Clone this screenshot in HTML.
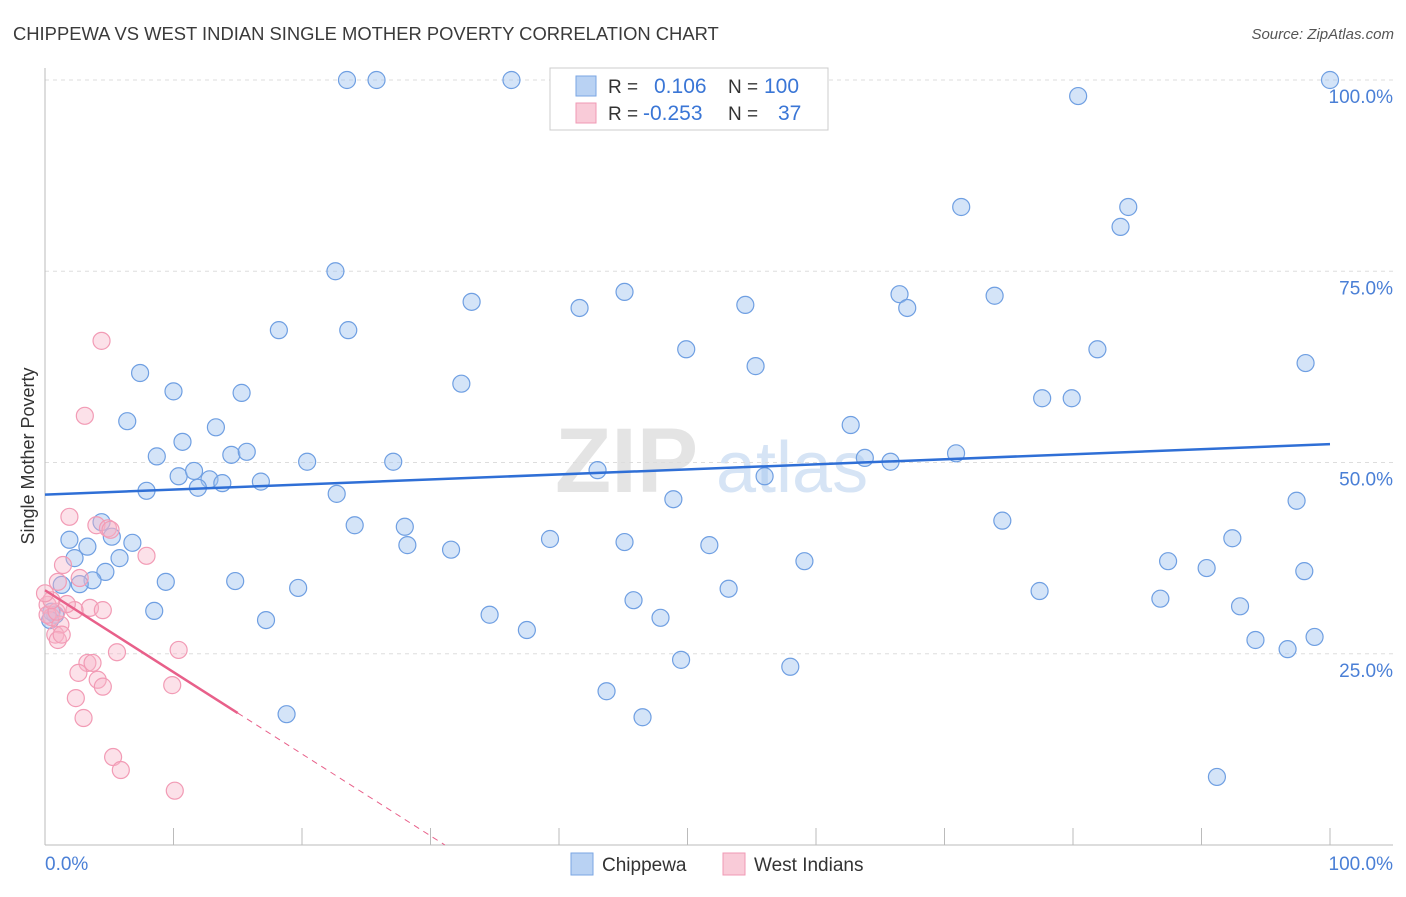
<!DOCTYPE html>
<html><head><meta charset="utf-8"><style>
body{margin:0;background:#fff;font-family:"Liberation Sans",sans-serif;}
svg text{font-family:"Liberation Sans",sans-serif;}
</style></head><body>
<svg id="chart" width="1406" height="892" xmlns="http://www.w3.org/2000/svg">
<text x="13" y="40" font-size="18.4" fill="#3a3a3a">CHIPPEWA VS WEST INDIAN SINGLE MOTHER POVERTY CORRELATION CHART</text>
<text x="1394" y="39" font-size="15" fill="#555" text-anchor="end" font-style="italic">Source: ZipAtlas.com</text>
<text x="555" y="492" font-size="92" fill="#e4e4e4" font-family="Liberation Serif" font-weight="bold">ZIP</text>
<text x="716" y="492" font-size="72" fill="#d6e4f5">atlas</text>
<text transform="translate(34,456) rotate(-90)" font-size="18" fill="#333" text-anchor="middle">Single Mother Poverty</text>
<g id="grid"></g><g id="marks"></g>
<g>
<rect x="550" y="68" width="278" height="62" fill="#fff" stroke="#ccc"/>
<rect x="576" y="76" width="20" height="20" fill="#b9d2f3" stroke="#7aa6e3"/>
<rect x="576" y="103" width="20" height="20" fill="#f9cbd8" stroke="#f09ab4"/>
<text x="608" y="93" font-size="19" fill="#333">R =</text>
<text x="654" y="93" font-size="21" fill="#3a76d6">0.106</text>
<text x="728" y="93" font-size="19" fill="#333">N =</text>
<text x="764" y="93" font-size="21" fill="#3a76d6">100</text>
<text x="608" y="120" font-size="19" fill="#333">R =</text>
<text x="643" y="120" font-size="21" fill="#3a76d6">-0.253</text>
<text x="728" y="120" font-size="19" fill="#333">N =</text>
<text x="778" y="120" font-size="21" fill="#3a76d6">37</text>
</g>
<g>
<rect x="571" y="853" width="22" height="22" fill="#b9d2f3" stroke="#7aa6e3"/>
<text x="602" y="871" font-size="19" fill="#333">Chippewa</text>
<rect x="723" y="853" width="22" height="22" fill="#f9cbd8" stroke="#f09ab4"/>
<text x="754" y="871" font-size="19" fill="#333">West Indians</text>
</g>
</svg>
<script>
const blueX=[23.5,25.8,36.3,80.4,100,71.3,84.3,83.7,22.6,18.2,23.6,33.2,41.6,45.1,54.5,66.5,67.1,73.9,49.9,55.3,81.9,98.1,7.4,10.0,15.3,32.4,77.6,79.9,6.4,13.3,62.7,8.7,10.7,14.5,15.7,20.4,27.1,63.8,65.8,70.9,10.4,11.6,12.8,13.8,16.8,11.9,7.9,22.7,43.0,56.0,48.9,97.4,24.1,28.0,4.4,5.2,1.9,3.3,6.8,28.2,31.6,39.3,45.1,51.7,74.5,92.4,2.3,5.8,4.7,3.7,2.7,1.3,9.4,14.8,19.7,59.1,87.4,90.4,98.0,53.2,45.8,77.4,86.8,93.0,8.5,17.2,34.6,47.9,37.5,94.2,96.7,98.8,49.5,58.0,43.7,46.5,18.8,91.2,0.8,0.5,0.4];
const blueY=[100,100,100,97.9,100,83.4,83.4,80.8,75.0,67.3,67.3,71.0,70.2,72.3,70.6,72.0,70.2,71.8,64.8,62.6,64.8,63.0,61.7,59.3,59.1,60.3,58.4,58.4,55.4,54.6,54.9,50.8,52.7,51.0,51.4,50.1,50.1,50.6,50.1,51.2,48.2,48.9,47.8,47.3,47.5,46.7,46.3,45.9,49.0,48.2,45.2,45.0,41.8,41.6,42.2,40.3,39.9,39.0,39.5,39.2,38.6,40.0,39.6,39.2,42.4,40.1,37.5,37.5,35.7,34.6,34.1,34.0,34.4,34.5,33.6,37.1,37.1,36.2,35.8,33.5,32.0,33.2,32.2,31.2,30.6,29.4,30.1,29.7,28.1,26.8,25.6,27.2,24.2,23.3,20.1,16.7,17.1,8.9,30.1,30.5,29.4];
const pinkX=[4.4,3.1,1.9,4.0,4.9,5.1,7.9,1.4,2.7,1.0,3.5,4.5,2.3,0.2,0.5,1.2,0.8,1.0,3.3,3.7,5.6,10.4,4.1,2.6,4.5,9.9,2.4,3.0,5.3,5.9,10.1,0.2,0.9,1.7,0.5,1.3,0];
const pinkY=[65.9,56.1,42.9,41.8,41.4,41.2,37.8,36.6,34.9,34.4,31.0,30.7,30.7,31.4,29.8,28.8,27.5,26.8,23.8,23.8,25.2,25.5,21.6,22.5,20.7,20.9,19.2,16.6,11.5,9.8,7.1,30.1,30.5,31.5,32.0,27.5,32.9];
const yTicks=[25,50,75,100];
const yTickLabels=["25.0%","50.0%","75.0%","100.0%"];
const blueTrend=[45.8,52.4];
const pinkTrend=[33.3,-1.07];
const pinkSolidEnd=15;

const X0=45,X1=1330,Y0=845,Y1=80;
const sx=v=>X0+(X1-X0)*v/100, sy=v=>Y0-(Y0-Y1)*v/100;
const NS="http://www.w3.org/2000/svg";
function mk(tag,attrs,parent){const e=document.createElementNS(NS,tag);for(const k in attrs)e.setAttribute(k,attrs[k]);parent.appendChild(e);return e;}
const grid=document.getElementById('grid'),marks=document.getElementById('marks');
yTicks.forEach((t,i)=>{
 const l=mk('line',{x1:X0,x2:1393,y1:sy(t),y2:sy(t),stroke:'#ddd','stroke-dasharray':'4,4'},grid);
 
 
 const tx=mk('text',{x:1393,y:sy(t)+23,'font-size':19,fill:'#4a7fd6','text-anchor':'end'},grid);
 tx.textContent=yTickLabels[i];
 
 
});
const ax=mk('line',{x1:X0,x2:1393,y1:Y0,y2:Y0,stroke:'#bbb'},grid);


const ay=mk('line',{x1:X0,x2:X0,y1:68,y2:Y0,stroke:'#bbb'},grid);


for(let i=1;i<=10;i++){const tk=mk('line',{x1:sx(i*10),x2:sx(i*10),y1:828,y2:Y0,stroke:'#bbb'},grid);
 
 }
[[0,'start','0.0%',X0],[100,'end','100.0%',1393]].forEach(a=>{const t=mk('text',{x:a[3],y:870,'font-size':19,fill:'#4a7fd6','text-anchor':a[1]},grid);t.textContent=a[2];
 
 });
blueX.forEach((x,i)=>{const c=mk('circle',{cx:sx(x),cy:sy(blueY[i]),r:8.5,fill:'rgba(160,195,240,0.45)',stroke:'#6f9fe2','stroke-width':1.2},marks);
 
 });
pinkX.forEach((x,i)=>{const c=mk('circle',{cx:sx(x),cy:sy(pinkY[i]),r:8.5,fill:'rgba(248,180,200,0.4)',stroke:'#f29bb5','stroke-width':1.2},marks);
 
 });
const bl=mk('line',{x1:sx(0),y1:sy(blueTrend[0]),x2:sx(100),y2:sy(blueTrend[1]),stroke:'#2f6fd6','stroke-width':2.5},marks);


const pEnd=-pinkTrend[0]/pinkTrend[1];
const pl=mk('line',{x1:sx(0),y1:sy(pinkTrend[0]),x2:sx(pinkSolidEnd),y2:sy(pinkTrend[0]+pinkTrend[1]*pinkSolidEnd),stroke:'#e8608a','stroke-width':2.5},marks);


const pd=mk('line',{x1:sx(pinkSolidEnd),y1:sy(pinkTrend[0]+pinkTrend[1]*pinkSolidEnd),x2:sx(pEnd),y2:sy(0),stroke:'#e8608a','stroke-width':1,'stroke-dasharray':'6,5'},marks);


</script>
</body></html>
